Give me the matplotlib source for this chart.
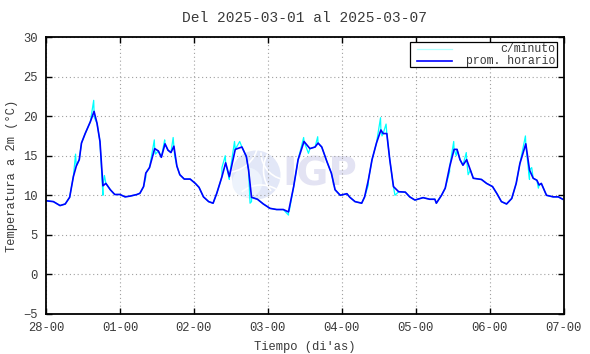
import matplotlib.pyplot as plt
from matplotlib.patches import Circle, Rectangle, Arc
from matplotlib.lines import Line2D

# hourly average (blue), time in days since 28-00
hour_t = [0.01, 0.10, 0.19, 0.26, 0.32, 0.37, 0.41, 0.45, 0.48, 0.53, 0.60, 0.65,
          0.69, 0.73, 0.77, 0.81, 0.87, 0.93, 1.00, 1.07, 1.14, 1.23, 1.27, 1.32,
          1.35, 1.40, 1.47, 1.52, 1.56, 1.61, 1.65, 1.69, 1.73, 1.77, 1.81, 1.87,
          1.95, 2.02, 2.07, 2.13, 2.20, 2.26, 2.31, 2.38, 2.43, 2.48, 2.56, 2.65,
          2.71, 2.74, 2.78, 2.86, 2.94, 3.03, 3.12, 3.21, 3.28, 3.35, 3.41, 3.49,
          3.57, 3.64, 3.68, 3.73, 3.80, 3.86, 3.91, 3.98, 4.07, 4.11, 4.18, 4.27,
          4.31, 4.36, 4.41, 4.47, 4.53, 4.56, 4.61, 4.65, 4.70, 4.77, 4.86, 4.92,
          4.99, 5.10, 5.19, 5.26, 5.28, 5.35, 5.40, 5.46, 5.52, 5.56, 5.60, 5.64,
          5.69, 5.74, 5.78, 5.89, 5.96, 6.04, 6.10, 6.16, 6.23, 6.30, 6.36, 6.41,
          6.49, 6.54, 6.59, 6.64, 6.67, 6.70, 6.77, 6.86, 6.93, 6.99]
hour_v = [9.3, 9.2, 8.7, 8.9, 9.75, 12.35, 13.7, 14.5, 16.6, 17.8, 19.3, 20.6,
          19.1, 16.8, 11.2, 11.5, 10.7, 10.1, 10.1, 9.8, 9.9, 10.1, 10.25, 11.1,
          12.8, 13.5, 15.9, 15.6, 14.8, 16.5, 15.7, 15.4, 16.2, 13.7, 12.6, 12.05,
          12.05, 11.5, 11.0, 9.8, 9.2, 9.0, 10.25, 12.35, 14.1, 12.35, 15.8, 16.1,
          14.9, 13.2, 9.75, 9.5, 8.9, 8.35, 8.2, 8.2, 7.9, 11.1, 14.5, 16.8,
          15.9, 16.1, 16.6, 16.1, 14.25, 12.8, 10.7, 10.0, 10.2, 9.75, 9.2, 9.0,
          9.8, 11.9, 14.5, 16.6, 18.25, 17.8, 17.8, 14.5, 11.1, 10.45, 10.4, 9.8,
          9.4, 9.7, 9.5, 9.5, 9.0, 10.0, 10.9, 13.6, 15.8, 15.8, 14.5, 13.8,
          14.5, 13.2, 12.15, 12.0, 11.5, 11.1, 10.2, 9.2, 8.9, 9.6, 11.5, 14.0,
          16.5, 13.2, 12.15, 11.9, 11.3, 11.5, 10.0, 9.8, 9.8, 9.5]

# per-minute excursions (cyan) that show beyond the hourly line
spike_t = [0.40, 0.645, 0.655, 0.77, 0.79, 1.35, 1.465, 1.48, 1.605, 1.72, 1.74,
           2.38, 2.425, 2.48, 2.55, 2.62, 2.76, 2.78, 3.28, 3.29, 3.485, 3.55,
           3.675, 4.36, 4.525, 4.545, 4.60, 4.72, 5.46, 5.515, 5.55, 5.685, 5.71,
           6.485, 6.50, 6.54, 6.57, 6.66]
spike_v = [15.2, 22.0, 19.8, 10.0, 12.5, 12.3, 17.0, 15.2, 17.0, 17.3, 15.0,
           13.5, 15.0, 12.0, 16.8, 16.8, 9.0, 9.2, 7.5, 8.0, 17.3, 15.3,
           17.4, 11.3, 19.8, 17.5, 19.0, 10.0, 13.0, 16.8, 15.0, 15.4, 12.6,
           17.5, 15.5, 12.0, 13.5, 10.9]

tick_pos = [0, 1, 2, 3, 4, 5, 6, 7]
tick_lab = ["28-00", "01-00", "02-00", "03-00", "04-00", "05-00", "06-00", "07-00"]

minute = sorted(zip(hour_t + spike_t, hour_v + spike_v))
min_t = [p[0] for p in minute]
min_v = [p[1] for p in minute]

plt.rcParams['font.family'] = ['Liberation Mono', 'DejaVu Sans Mono']
plt.rcParams['font.size'] = 8.7
txt_col = '#3a3a3a'

fig = plt.figure(figsize=(5.9, 3.54), dpi=100)

# IGP watermark (behind the plot)
logo = fig.add_axes([231 / 590, 1 - 200 / 354, 50 / 590, 50 / 354], zorder=0)
logo.set_xlim(-1, 1)
logo.set_ylim(-1, 1)
logo.set_aspect('equal')
logo.axis('off')
logo.add_patch(Circle((0, 0), 0.98, facecolor='#e2e7f7', edgecolor='none'))
logo.add_patch(Circle((-0.35, -0.3), 0.6, facecolor='#edf3fc', edgecolor='none'))
for (cx, cy, w, h, a1, a2) in [(1.3, 0.9, 2.2, 2.2, 180, 270), (1.6, 0.2, 2.6, 2.6, 150, 220),
                                (-1.2, 1.4, 2.6, 2.6, 270, 350), (0.2, -1.6, 2.4, 2.4, 60, 130)]:
    logo.add_patch(Arc((cx, cy), w, h, theta1=a1, theta2=a2, color='white', lw=1.2))
fig.text(282 / 590, 1 - 175 / 354, "IGP", fontsize=28, fontweight='bold',
         family='DejaVu Sans', color='#e3e3f3', va='center', ha='left', zorder=0)

ax = fig.add_axes([46 / 590, 1 - 314 / 354, 517.5 / 590, 277 / 354], zorder=1)
ax.patch.set_alpha(0)

ax.plot(min_t, min_v, color='cyan', lw=0.9)
ax.plot(hour_t, hour_v, color='blue', lw=1.2)

ax.set_xlim(0, 7)
ax.set_ylim(-5, 30)
ax.set_xticks(tick_pos)
ax.set_xticklabels(tick_lab)
ax.set_yticks(range(-5, 31, 5))
ax.grid(True, color='#a0a0a0', linestyle=(0, (1, 2.5)), lw=0.8)
ax.tick_params(direction='in', top=True, right=True, length=4, width=1, color='black',
               labelcolor=txt_col, pad=6)
for s in ax.spines.values():
    s.set_linewidth(1.3)

ax.set_title("Del 2025-03-01 al 2025-03-07", color=txt_col, pad=11)
ax.set_xlabel("Tiempo (di'as)", color=txt_col, labelpad=5)
ax.set_ylabel("Temperatura a 2m (°C)", color=txt_col, labelpad=4)

# legend drawn gnuplot-style (text right aligned)
ax.add_patch(Rectangle((0.703, 0.893), 0.284, 0.09, transform=ax.transAxes,
                       facecolor='white', edgecolor='black', lw=0.9, zorder=3))
ax.add_line(Line2D([0.716, 0.784], [0.957, 0.957], transform=ax.transAxes,
                   color='#b0ffff', lw=0.9, zorder=4))
ax.add_line(Line2D([0.716, 0.784], [0.912, 0.912], transform=ax.transAxes,
                   color='blue', lw=1.2, zorder=4))
ax.text(0.984, 0.957, "c/minuto", transform=ax.transAxes, ha='right', va='center',
        color=txt_col, fontsize=8.3, zorder=4)
ax.text(0.984, 0.912, "prom. horario", transform=ax.transAxes, ha='right', va='center',
        color=txt_col, fontsize=8.3, zorder=4)

fig.savefig("out.png", dpi=100)
